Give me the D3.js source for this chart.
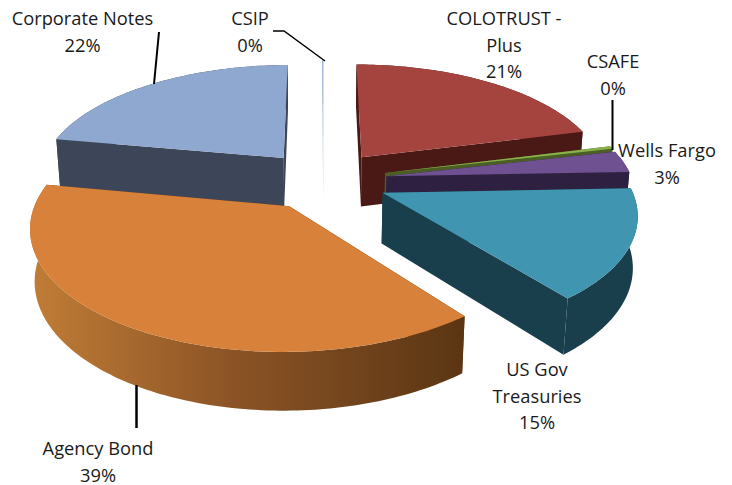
<!DOCTYPE html>
<html>
<head>
<meta charset="utf-8">
<script src="https://cdnjs.cloudflare.com/ajax/libs/d3/7.8.5/d3.min.js"></script>
<style>
html, body { margin: 0; padding: 0; background: #fff; }
svg { display: block; }
text { font-family: "Open Sans", Lato, sans-serif; font-size: 18.3px; fill: #1a1a1a; text-anchor: middle; }
</style>
</head>
<body>
<svg id="svg" width="732" height="485"></svg>
<script>
// chart data, clockwise from 12 o'clock
var categories = ['COLOTRUST - Plus', 'CSAFE', 'Wells Fargo', 'US Gov Treasuries', 'Agency Bond', 'Corporate Notes', 'CSIP'];
var shares = [21, 0.4, 3, 15, 38.5, 22, 0.1];
var topColors = ['#a5443f', '#8ab04a', '#6f5090', '#4096b0', '#d7813a', '#8fa8d0', '#9db4d6'];
var wallColors = ['#4a1815', '#4a5e25', '#2e2040', '#1a3f4c', 'url(#agencyWall)', '#3d4658', '#c4d2e6'];
// painter's order, back to front
var drawOrder = [6, 5, 0, 1, 2, 3, 4];

var svg = d3.select('svg');

// tilted disc with some perspective, v runs towards the viewer, z runs down
var cx = 323.5, cy = 180, radius = 246, tilt = 113.8, persp = 0.156;
var depth = 51, depthPersp = 0.015, explode = 0.26;

function project(u, v, z) {
    var den = 1 - persp * v + depthPersp * z;
    return [cx + radius * u / den, cy + (tilt * v + depth * z) / den];
}

var pie = d3.pie().sort(null).value(function(d){ return d; });
var arcs = pie(shares);
var line = d3.line();

var gradient = svg.append('defs').append('linearGradient')
    .attr('id', 'agencyWall')
    .attr('gradientUnits', 'userSpaceOnUse')
    .attr('x1', 35).attr('x2', 468).attr('y1', 0).attr('y2', 0);
gradient.append('stop').attr('offset', 0).attr('stop-color', '#bf7c35');
gradient.append('stop').attr('offset', 0.45).attr('stop-color', '#8c5426');
gradient.append('stop').attr('offset', 1).attr('stop-color', '#5a3513');

function rimPoints(d, z) {
    var mid = (d.startAngle + d.endAngle) / 2;
    var ou = explode * Math.sin(mid), ov = -explode * Math.cos(mid);
    var n = Math.max(2, Math.ceil((d.endAngle - d.startAngle) / 0.02));
    return d3.range(n + 1).map(function(i){
        var t = d.startAngle + (d.endAngle - d.startAngle) * i / n;
        return project(ou + Math.sin(t), ov - Math.cos(t), z);
    });
}

function apexPoint(d, z) {
    var mid = (d.startAngle + d.endAngle) / 2;
    return project(explode * Math.sin(mid), -explode * Math.cos(mid), z);
}

drawOrder.forEach(function(i){
    var d = arcs[i];
    var g = svg.append('g').attr('class', 'slice');
    var rimTop = rimPoints(d, 0), rimBottom = rimPoints(d, 1);
    var apexTop = apexPoint(d, 0), apexBottom = apexPoint(d, 1);
    var last = rimTop.length - 1;

    // the two cut faces, then the rounded outer wall, then the top
    var start = [apexTop, rimTop[0], rimBottom[0], apexBottom];
    var end = [apexTop, rimTop[last], rimBottom[last], apexBottom];
    var outer = rimTop.concat(rimBottom.slice().reverse());
    [start, end, outer].forEach(function(pts){
        g.append('path')
            .attr('d', line(pts) + 'Z')
            .attr('fill', i === 4 && pts !== outer ? '#5a3513' : wallColors[i]);
    });
    g.append('path')
        .attr('d', line([apexTop].concat(rimTop)) + 'Z')
        .attr('fill', topColors[i]);
});

// leader lines
var leaders = [
    {pts: [[159, 32], [154, 84]], w: 2},
    {pts: [[273, 31], [284, 31], [325, 61]], w: 1.5},
    {pts: [[612.5, 100], [612.5, 150]], w: 2},
    {pts: [[136.5, 385], [136.5, 428]], w: 2.5}
];
leaders.forEach(function(l){
    svg.append('path')
        .attr('d', line(l.pts))
        .attr('fill', 'none')
        .attr('stroke', '#000')
        .attr('stroke-width', l.w);
});

// labels: wrapped name lines, percentage goes underneath
var labelLines = [['COLOTRUST -', 'Plus'], ['CSAFE'], ['Wells Fargo'], ['US Gov', 'Treasuries'], ['Agency Bond'], ['Corporate Notes'], ['CSIP']];
var labelAnchors = [[504, 25], [613, 68], [667, 157], [537, 376], [98, 455], [82.5, 25], [250, 25]];

labelLines.forEach(function(lines, i){
    var t = svg.append('text')
        .attr('x', labelAnchors[i][0])
        .attr('y', labelAnchors[i][1]);
    lines.concat([Math.round(shares[i]) + '%']).forEach(function(s, j){
        t.append('tspan')
            .attr('x', labelAnchors[i][0])
            .attr('dy', j === 0 ? 0 : 26.5)
            .text(s);
    });
});
</script>
</body>
</html>
